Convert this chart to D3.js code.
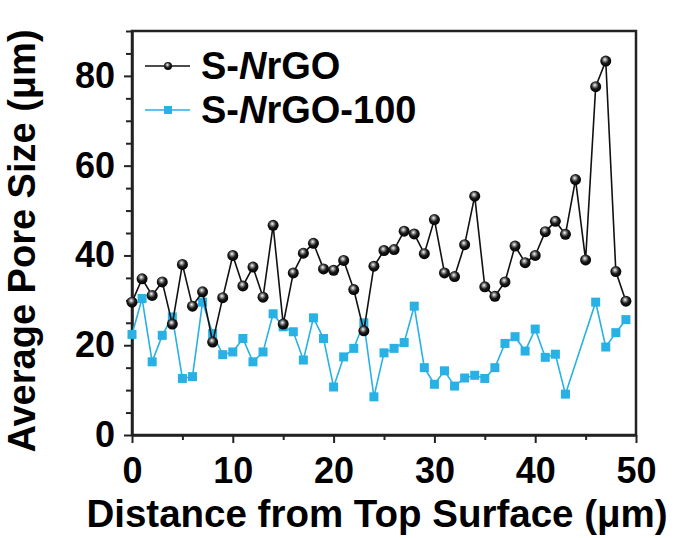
<!DOCTYPE html>
<html>
<head>
<meta charset="utf-8">
<script src="https://cdn.jsdelivr.net/npm/d3@7"></script>
<style>
  body { margin: 0; background: #fff; }
  svg { font-family: "Liberation Sans", Arial, sans-serif; font-weight: bold; }
</style>
</head>
<body>
<div id="chart"></div>
<script>
// distance from top surface (um), one sample per um
const distances = d3.range(0, 50);

// S-NrGO average pore size (um)
const snrgo = [
  29.6, 34.8, 31.1, 34.1, 24.7, 38.0, 28.7, 31.9, 20.7, 30.6,
  40.0, 33.2, 37.4, 30.7, 46.7, 24.7, 36.1, 40.5, 42.7, 37.0,
  36.7, 38.9, 32.4, 23.2, 37.6, 41.1, 41.3, 45.4, 44.8, 40.4,
  48.0, 36.1, 35.3, 42.4, 53.2, 33.0, 30.9, 34.1, 42.1, 38.4,
  40.0, 45.3, 47.6, 44.7, 56.9, 39.0, 77.6, 83.3, 36.4, 29.8,
];

// S-NrGO-100 average pore size (um), no samples at 44 and 45
const snrgo100 = [
  22.4, 30.4, 16.3, 22.2, 26.3, 12.6, 13.0, 29.6, 22.6, 17.9,
  18.5, 21.5, 16.3, 18.5, 27.0, 24.1, 23.0, 16.7, 26.1, 21.5,
  10.7, 17.4, 19.3, 25.0, 8.5, 18.3, 19.3, 20.6, 28.7, 15.0,
  11.3, 14.3, 10.9, 12.7, 13.3, 12.6, 15.0, 20.4, 21.9, 18.7,
  23.6, 17.3, 18.0, 9.1, null, null, 29.6, 19.6, 22.8, 25.7,
];

const seriesNames = ['S-NrGO', 'S-NrGO-100'];
const xTicks = d3.range(0, 51, 5);
const yTicks = d3.range(0, 91, 5);
const xLabelTicks = [0, 10, 20, 30, 40, 50];
const yLabelTicks = [0, 20, 40, 60, 80];

const width = 683;
const height = 538;
const margin = { top: 31, right: 47, bottom: 103, left: 132 };
const innerW = width - margin.left - margin.right;
const innerH = height - margin.top - margin.bottom;
const blue = '#27b1e5';

const svg = d3.select('#chart').append('svg')
  .attr('width', width)
  .attr('height', height);

// sphere look for the black markers
const defs = svg.append('defs');
const grad = defs.append('radialGradient')
  .attr('id', 'sphere')
  .attr('cx', '45%').attr('cy', '40%').attr('r', '60%')
  .attr('fx', '42%').attr('fy', '35%');
grad.append('stop').attr('offset', '0%').attr('stop-color', '#ffffff');
grad.append('stop').attr('offset', '22%').attr('stop-color', '#9a9a9a');
grad.append('stop').attr('offset', '55%').attr('stop-color', '#1a1a1a');
grad.append('stop').attr('offset', '100%').attr('stop-color', '#000000');

const g = svg.append('g')
  .attr('transform', `translate(${margin.left},${margin.top})`);

const x = d3.scaleLinear().domain([0, 50]).range([0, innerW]);
const y = d3.scaleLinear().domain([0, 90]).range([innerH, 0]);

// frame
g.append('rect')
  .attr('width', innerW)
  .attr('height', innerH)
  .attr('fill', 'none')
  .attr('stroke', '#222')
  .attr('stroke-width', 2.5);

// axes
const xAxis = g.append('g')
  .attr('transform', `translate(0,${innerH})`)
  .call(d3.axisBottom(x)
    .tickValues(xTicks)
    .tickSize(6)
    .tickSizeOuter(0)
    .tickPadding(16)
    .tickFormat((d) => (xLabelTicks.includes(d) ? d : '')));

const yAxis = g.append('g')
  .call(d3.axisLeft(y)
    .tickValues(yTicks)
    .tickSize(7)
    .tickSizeOuter(0)
    .tickPadding(10)
    .tickFormat((d) => (yLabelTicks.includes(d) ? d : '')));

[xAxis, yAxis].forEach((ax) => {
  ax.select('.domain').attr('stroke', '#222').attr('stroke-width', 2.5);
  ax.selectAll('line').attr('stroke', '#222').attr('stroke-width', 2);
  ax.selectAll('text')
    .attr('fill', '#000')
    .style('font-size', '36px')
    .style('font-weight', 'bold')
    .style('font-family', '"Liberation Sans", Arial, sans-serif');
});
xAxis.selectAll('.tick line')
  .attr('y2', (d) => (d % 10 === 0 ? 8 : 5));
yAxis.selectAll('.tick line')
  .attr('x2', (d) => (d % 20 === 0 ? -8 : -6));

// lines
const line = d3.line()
  .x((d) => x(d[0]))
  .y((d) => y(d[1]));

const bluePts = distances
  .map((d, i) => [d, snrgo100[i]])
  .filter((d) => d[1] !== null);
const blackPts = distances.map((d, i) => [d, snrgo[i]]);

g.append('path')
  .datum(bluePts)
  .attr('fill', 'none')
  .attr('stroke', blue)
  .attr('stroke-width', 1.6)
  .attr('d', line);

g.append('g')
  .selectAll('rect')
  .data(bluePts)
  .join('rect')
  .attr('x', (d) => x(d[0]) - 4.5)
  .attr('y', (d) => y(d[1]) - 4.5)
  .attr('width', 9)
  .attr('height', 9)
  .attr('fill', blue);

g.append('path')
  .datum(blackPts)
  .attr('fill', 'none')
  .attr('stroke', '#111')
  .attr('stroke-width', 1.6)
  .attr('d', line);

g.append('g')
  .selectAll('circle')
  .data(blackPts)
  .join('circle')
  .attr('cx', (d) => x(d[0]))
  .attr('cy', (d) => y(d[1]))
  .attr('r', 5.5)
  .attr('fill', 'url(#sphere)');

// legend
const legend = svg.append('g');
const rows = [
  { name: seriesNames[0], y: 66, color: '#111' },
  { name: seriesNames[1], y: 110, color: blue },
];
rows.forEach((r, i) => {
  legend.append('line')
    .attr('x1', 145).attr('x2', 190)
    .attr('y1', r.y).attr('y2', r.y)
    .attr('stroke', r.color)
    .attr('stroke-width', 1.6);
  if (i === 0) {
    legend.append('circle')
      .attr('cx', 168).attr('cy', r.y).attr('r', 4)
      .attr('fill', 'url(#sphere)');
  } else {
    legend.append('rect')
      .attr('x', 164).attr('y', r.y - 4)
      .attr('width', 8).attr('height', 8)
      .attr('fill', blue);
  }
  const t = legend.append('text')
    .attr('x', 201)
    .attr('y', r.y + 13)
    .style('font-size', '38px');
  const [pre, post] = r.name.split('N');
  t.append('tspan').text(pre);
  t.append('tspan').style('font-style', 'italic').text('N');
  t.append('tspan').text(post);
});

// axis titles
svg.append('text')
  .attr('x', 377)
  .attr('y', 527)
  .attr('text-anchor', 'middle')
  .style('font-size', '38.5px')
  .text('Distance from Top Surface (μm)');

svg.append('text')
  .attr('transform', 'translate(35,241) rotate(-90)')
  .attr('text-anchor', 'middle')
  .style('font-size', '38px')
  .text('Average Pore Size (μm)');
</script>
</body>
</html>
